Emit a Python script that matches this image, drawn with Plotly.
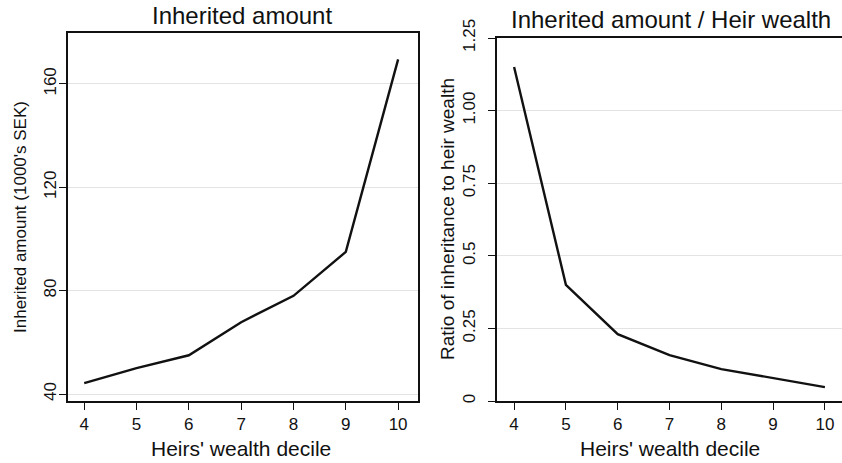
import plotly.graph_objects as go

deciles = [4, 5, 6, 7, 8, 9, 10]
inherited_amount = [44.2, 50, 55, 67.8, 78, 95, 169.5]
ratio_to_wealth = [1.15, 0.40, 0.23, 0.158, 0.11, 0.079, 0.048]

left_ticks = [40, 80, 120, 160]
right_ticks = [0, 0.25, 0.5, 0.75, 1.0, 1.25]
right_ticklabels = ["0", "0.25", "0.5", "0.75", "1.00", "1.25"]

font_family = "Liberation Sans, Arial, sans-serif"
ink = "#111111"
W, H = 842, 463

fig = go.Figure()
fig.add_trace(go.Scatter(x=deciles, y=inherited_amount, mode="lines",
                         line=dict(color=ink, width=2.4), xaxis="x", yaxis="y",
                         showlegend=False))
fig.add_trace(go.Scatter(x=deciles, y=ratio_to_wealth, mode="lines",
                         line=dict(color=ink, width=2.4), xaxis="x2", yaxis="y2",
                         showlegend=False))

axis_common = dict(showline=True, linecolor=ink, linewidth=1.8, mirror=True,
                   ticks="outside", ticklen=7, tickcolor=ink, tickwidth=1.4,
                   tickfont=dict(size=17, color=ink, family=font_family),
                   zeroline=False, automargin=False)

fig.update_layout(
    width=W, height=H,
    margin=dict(l=0, r=0, t=0, b=0, autoexpand=False),
    paper_bgcolor="white", plot_bgcolor="white",
    font=dict(family=font_family, color=ink),
    xaxis=dict(domain=[68/W, 418/W], range=[3.69, 10.38], anchor="y",
               tickvals=deciles, showgrid=False, ticklabelstandoff=0,
               **axis_common),
    yaxis=dict(domain=[1-401/H, 1-33/H], range=[37.3, 179.7], anchor="x",
               tickvals=left_ticks, tickangle=-90, showgrid=True,
               gridcolor="#e3e3e3", gridwidth=1.3, ticklabelstandoff=-4,
               **axis_common),
    xaxis2=dict(domain=[497/W, 1.0], range=[3.67, 10.33], anchor="y2",
                tickvals=deciles, showgrid=False, ticklabelstandoff=0,
                **axis_common),
    yaxis2=dict(domain=[1-401/H, 1-38/H], range=[0, 1.25], anchor="x2",
                tickvals=right_ticks, ticktext=right_ticklabels, tickangle=-90,
                showgrid=True, gridcolor="#e3e3e3", gridwidth=1.3, ticklabelstandoff=6,
                **axis_common),
    annotations=[
        dict(text="Inherited amount", x=242/W, y=1-16/H, xref="paper", yref="paper",
             showarrow=False, font=dict(size=24, color=ink), xanchor="center", yanchor="middle"),
        dict(text="Inherited amount / Heir wealth", x=671/W, y=1-19/H, xref="paper", yref="paper",
             showarrow=False, font=dict(size=24, color=ink), xanchor="center", yanchor="middle"),
        dict(text="Heirs' wealth decile", x=241/W, y=1-448/H, xref="paper", yref="paper",
             showarrow=False, font=dict(size=21, color=ink), xanchor="center", yanchor="middle"),
        dict(text="Heirs' wealth decile", x=670/W, y=1-448/H, xref="paper", yref="paper",
             showarrow=False, font=dict(size=21, color=ink), xanchor="center", yanchor="middle"),
        dict(text="Inherited amount (1000's SEK)", x=20/W, y=1-217/H, xref="paper", yref="paper",
             showarrow=False, font=dict(size=17, color=ink), textangle=-90,
             xanchor="center", yanchor="middle"),
        dict(text="Ratio of inheritance to heir wealth", x=447/W, y=1-219/H, xref="paper", yref="paper",
             showarrow=False, font=dict(size=19, color=ink), textangle=-90,
             xanchor="center", yanchor="middle"),
    ],
)

fig.write_html("out.html", config={"displayModeBar": False},
               post_script="document.body.style.margin='0';document.body.style.overflow='hidden';")
